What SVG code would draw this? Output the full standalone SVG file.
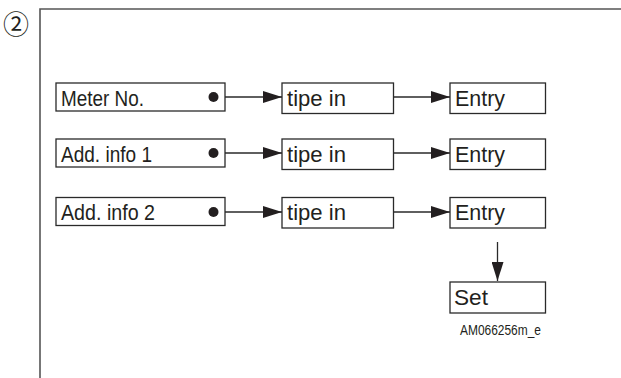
<svg xmlns="http://www.w3.org/2000/svg" width="621" height="378" viewBox="0 0 621 378">
<defs>
<style>
.box{fill:#fff;stroke:#2a2a2a;stroke-width:1.3}
.lbl{font-family:"Liberation Sans",Arial,sans-serif;font-size:22.5px;fill:#231f20}
.con{stroke:#2a2a2a;stroke-width:1.3;fill:none}
.frame{stroke:#555;stroke-width:1.6;fill:none}
</style>
<marker id="ah" markerWidth="19" markerHeight="12" refX="19" refY="6" orient="auto" markerUnits="userSpaceOnUse">
<path d="M0,0 L19,6 L0,12 Z" fill="#231f20"/>
</marker>
</defs>
<rect width="621" height="378" fill="#fff"/>
<g id="frame">
<path class="frame" d="M40,378 V9 H621"/>
<text x="16" y="34" font-family="'Noto Sans CJK JP','DejaVu Sans',sans-serif" font-size="26" fill="#231f20" text-anchor="middle">②</text>
</g>
<g id="meter">
<rect class="box" x="56" y="83" width="169" height="28"/>
<text class="lbl" x="61" y="105.5" textLength="83" lengthAdjust="spacingAndGlyphs">Meter No.</text>
<circle cx="213.5" cy="97" r="5" fill="#231f20"/>
</g>
<g id="tipe1">
<rect class="box" x="282" y="83" width="111.5" height="30.5"/>
<text class="lbl" x="287" y="105.5" textLength="59" lengthAdjust="spacingAndGlyphs">tipe in</text>
</g>
<g id="entry1">
<rect class="box" x="450" y="83" width="95.5" height="30.5"/>
<text class="lbl" x="455" y="105.5" textLength="50" lengthAdjust="spacingAndGlyphs">Entry</text>
</g>
<g id="add1">
<rect class="box" x="56" y="139" width="169" height="28"/>
<text class="lbl" x="61" y="161.5" textLength="91" lengthAdjust="spacingAndGlyphs">Add. info 1</text>
<circle cx="213.5" cy="153" r="5" fill="#231f20"/>
</g>
<g id="tipe2">
<rect class="box" x="282" y="139" width="111.5" height="30.5"/>
<text class="lbl" x="287" y="161.5" textLength="59" lengthAdjust="spacingAndGlyphs">tipe in</text>
</g>
<g id="entry2">
<rect class="box" x="450" y="139" width="95.5" height="30.5"/>
<text class="lbl" x="455" y="161.5" textLength="50" lengthAdjust="spacingAndGlyphs">Entry</text>
</g>
<g id="add2">
<rect class="box" x="56" y="197.5" width="169" height="28"/>
<text class="lbl" x="61" y="220" textLength="94" lengthAdjust="spacingAndGlyphs">Add. info 2</text>
<circle cx="213.5" cy="212" r="5" fill="#231f20"/>
</g>
<g id="tipe3">
<rect class="box" x="282" y="197.5" width="111.5" height="30.5"/>
<text class="lbl" x="287" y="220" textLength="59" lengthAdjust="spacingAndGlyphs">tipe in</text>
</g>
<g id="entry3">
<rect class="box" x="450" y="197.5" width="95.5" height="30.5"/>
<text class="lbl" x="455" y="220" textLength="50" lengthAdjust="spacingAndGlyphs">Entry</text>
</g>
<g id="set">
<rect class="box" x="450" y="282" width="95.5" height="31"/>
<text class="lbl" x="454" y="305" textLength="34" lengthAdjust="spacingAndGlyphs">Set</text>
</g>
<g id="connectors">
<line class="con" x1="225" y1="97" x2="282" y2="97" marker-end="url(#ah)"/>
<line class="con" x1="393.5" y1="97" x2="450" y2="97" marker-end="url(#ah)"/>
<line class="con" x1="225" y1="153" x2="282" y2="153" marker-end="url(#ah)"/>
<line class="con" x1="393.5" y1="153" x2="450" y2="153" marker-end="url(#ah)"/>
<line class="con" x1="225" y1="212" x2="282" y2="212" marker-end="url(#ah)"/>
<line class="con" x1="393.5" y1="212" x2="450" y2="212" marker-end="url(#ah)"/>
<line class="con" x1="497.5" y1="242" x2="497.5" y2="281" marker-end="url(#ah)"/>
</g>
<text x="460" y="335" font-family="'Liberation Sans',Arial,sans-serif" font-size="14" fill="#231f20" textLength="81" lengthAdjust="spacingAndGlyphs">AM066256m_e</text>
</svg>
